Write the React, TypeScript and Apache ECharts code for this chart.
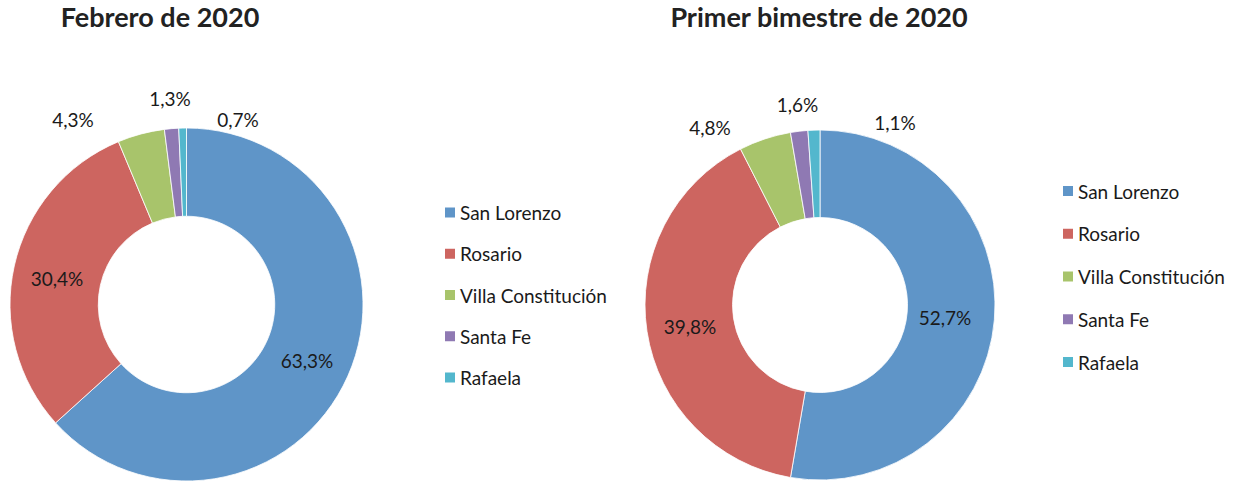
import React, { useEffect, useRef } from "react";
import * as echarts from "echarts";

const categories = ["San Lorenzo", "Rosario", "Villa Constitución", "Santa Fe", "Rafaela"];
const febrero2020 = [63.3, 30.4, 4.3, 1.3, 0.7];
const bimestre2020 = [52.7, 39.8, 4.8, 1.6, 1.1];
const titles = ["Febrero de 2020", "Primer bimestre de 2020"];
const colors = ["#5F95C8", "#CD6560", "#A8C46B", "#8F79B3", "#53B7CD"];

// label placements relative to each donut centre (style only)
const leftLabelOffsets = [[120.5, 55.5], [-129.5, -26.5], [-113.5, -185.5], [-16.5, -206.5], [51.5, -185]];
const rightLabelOffsets = [[125, 12], [-130, 21.5], [-110, -177.5], [-22.5, -201], [75, -182.5]];

const FONT = "Lato, 'Open Sans', sans-serif";

export default function App() {
  const ref = useRef<HTMLDivElement>(null);
  useEffect(() => {
    if (!ref.current) return;
    const chart = echarts.init(ref.current, null, { renderer: "svg" });
    const leftCenter = [186.5, 304.5];
    const rightCenter = [820, 305];
    const fmt = (p: any) => p.value.toFixed(1).replace(".", ",") + "%";
    const makeSeries = (name: string, values: number[], center: number[], outer: number, offsets: number[][]) => ({
      type: "pie",
      name,
      center,
      radius: [outer / 2, outer],
      startAngle: 90,
      clockwise: true,
      avoidLabelOverlap: false,
      silent: true,
      label: {
        show: true,
        position: "inside",
        formatter: fmt,
        fontSize: 19,
        fontFamily: FONT,
        color: "#1a1a1a",
      },
      labelLine: { show: false },
      labelLayout: (p: any) => {
        const o = offsets[p.dataIndex];
        return { x: center[0] + o[0], y: center[1] + o[1], align: "center", verticalAlign: "middle" };
      },
      itemStyle: { borderColor: "#ffffff", borderWidth: 0.8 },
      emphasis: { disabled: true },
      data: categories.map((c, i) => ({ name: c, value: values[i] })),
    });
    const legendBase = {
      orient: "vertical",
      icon: "rect",
      itemWidth: 12,
      itemHeight: 12,
      padding: 0,
      selectedMode: false,
      textStyle: { fontSize: 19, fontFamily: FONT, color: "#1a1a1a", lineHeight: 20, padding: [0, 0, 0, -1] },
      data: categories,
    };
    chart.setOption({
      animation: false,
      color: colors,
      title: [
        {
          text: titles[0],
          left: 160,
          top: 3,
          textAlign: "center",
          padding: 0,
          textStyle: { fontSize: 27, fontWeight: "bold", fontFamily: FONT, color: "#222" },
        },
        {
          text: titles[1],
          left: 819,
          top: 3,
          textAlign: "center",
          padding: 0,
          textStyle: { fontSize: 27, fontWeight: "bold", fontFamily: FONT, color: "#222" },
        },
      ],
      legend: [
        { ...legendBase, left: 443, top: 202.5, itemGap: 21.25 },
        { ...legendBase, left: 1061, top: 181, itemGap: 22.75 },
      ],
      series: [
        makeSeries(titles[0], febrero2020, leftCenter, 176.5, leftLabelOffsets),
        makeSeries(titles[1], bimestre2020, rightCenter, 175, rightLabelOffsets),
      ],
    });
    return () => chart.dispose();
  }, []);
  return (
    <div
      ref={ref}
      style={{ position: "fixed", left: 0, top: 0, width: 1238, height: 482, background: "#fff" }}
    />
  );
}
